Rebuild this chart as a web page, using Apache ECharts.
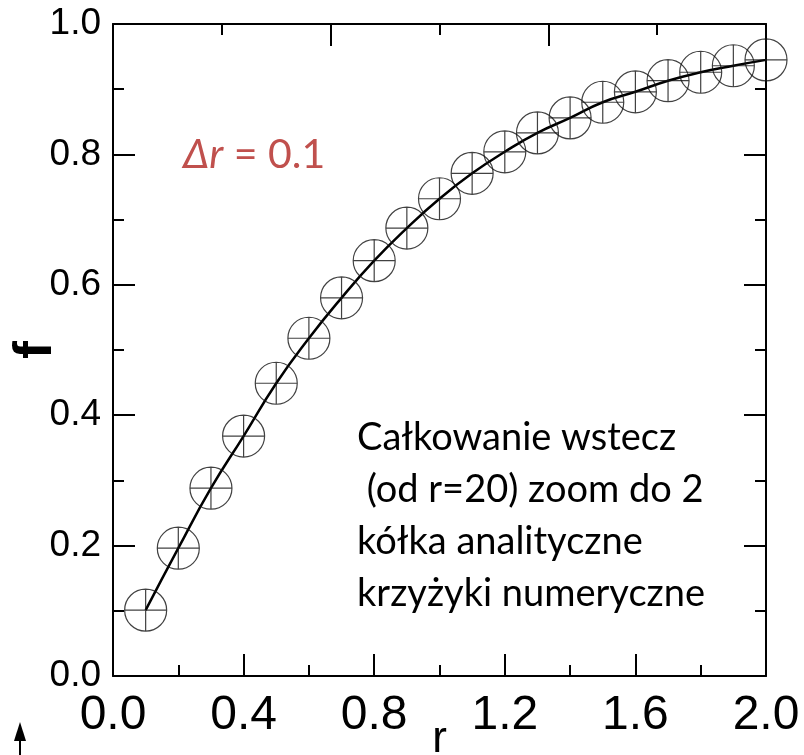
<!DOCTYPE html>
<html>
<head>
<meta charset="utf-8">
<script src="https://cdn.jsdelivr.net/npm/echarts@6/dist/echarts.min.js"></script>
<style>
  html, body { margin: 0; padding: 0; background: #fff; }
  #chart { width: 804px; height: 755px; }
</style>
</head>
<body>
<div id="chart"></div>
<script>
// r values (step 0.1) and f
const rValues = [0.1, 0.2, 0.3, 0.4, 0.5, 0.6, 0.7, 0.8, 0.9, 1.0,
                 1.1, 1.2, 1.3, 1.4, 1.5, 1.6, 1.7, 1.8, 1.9, 2.0];
const fValues = [0.101, 0.196, 0.288, 0.368, 0.449, 0.518, 0.580, 0.637, 0.687, 0.732,
                 0.771, 0.804, 0.833, 0.856, 0.880, 0.896, 0.913, 0.926, 0.936, 0.945];
const xTicks = [0, 2.0, 0.4];   // min, max, interval
const yTicks = [0, 1.0, 0.2];

const points = rValues.map((r, i) => [r, fValues[i]]);

// circle with a cross inside (analytic circle + numeric cross)
const crossCircle = 'path://M0,-10A10,10 0 1,1 0,10A10,10 0 1,1 0,-10Z M-10,0L10,0 M0,-10L0,10';

const chart = echarts.init(document.getElementById('chart'));

const axisLine = { show: true, onZero: false, lineStyle: { color: '#000', width: 2 } };
const tick = { show: true, inside: true, length: 22, lineStyle: { color: '#000', width: 2 } };
const minor = { show: true, splitNumber: 2, length: 11, lineStyle: { color: '#000', width: 2 } };

const option = {
  animation: false,
  grid: { left: 113, right: 38, top: 24, bottom: 79, containLabel: false, outerBoundsMode: 'none' },
  xAxis: [
    {
      type: 'value',
      min: xTicks[0], max: xTicks[1], interval: xTicks[2],
      name: 'r',
      nameLocation: 'middle',
      nameGap: 42,
      nameMoveOverlap: false,
      nameTextStyle: { fontFamily: 'Liberation Sans', fontSize: 44, color: '#000', verticalAlign: 'top' },
      axisLine: axisLine,
      axisTick: tick,
      minorTick: minor,
      splitLine: { show: false },
      axisLabel: {
        fontFamily: 'Liberation Sans', fontSize: 48, color: '#000', margin: 16,
        formatter: v => v.toFixed(1)
      }
    },
    {
      type: 'value',
      position: 'top',
      min: 0, max: 3, interval: 1,
      axisLine: axisLine,
      axisTick: tick,
      minorTick: minor,
      splitLine: { show: false },
      axisLabel: { show: false }
    }
  ],
  yAxis: [
    {
      type: 'value',
      min: yTicks[0], max: yTicks[1], interval: yTicks[2],
      name: 'f',
      nameLocation: 'middle',
      nameRotate: 90,
      nameGap: 50,
      nameMoveOverlap: false,
      nameTextStyle: { fontFamily: 'Liberation Sans', fontSize: 54, fontWeight: 'bold', color: '#000' },
      axisLine: axisLine,
      axisTick: tick,
      minorTick: minor,
      splitLine: { show: false },
      axisLabel: {
        fontFamily: 'Liberation Sans', fontSize: 37, color: '#000', margin: 12,
        formatter: v => v.toFixed(1)
      }
    },
    {
      type: 'value',
      position: 'right',
      min: yTicks[0], max: yTicks[1], interval: yTicks[2],
      axisLine: axisLine,
      axisTick: tick,
      minorTick: minor,
      splitLine: { show: false },
      axisLabel: { show: false }
    }
  ],
  series: [
    {
      name: 'curve',
      type: 'line',
      data: points,
      smooth: true,
      showSymbol: false,
      lineStyle: { color: '#000', width: 2.5 },
      z: 2
    },
    {
      name: 'points',
      type: 'scatter',
      data: points,
      symbol: crossCircle,
      symbolSize: 42,
      itemStyle: { color: 'rgba(0,0,0,0)', borderColor: '#111', borderWidth: 1.2 },
      z: 3
    }
  ],
  graphic: [
    {
      type: 'text',
      left: 183, top: 134,
      style: {
        text: '{i|Δr}{n| = 0.1}',
        rich: {
          i: { fontFamily: 'Lato', fontSize: 41, fontStyle: 'italic', fill: '#c0504d' },
          n: { fontFamily: 'Lato', fontSize: 41, fill: '#c0504d' }
        }
      }
    },
    {
      type: 'text',
      left: 357, top: 412,
      style: {
        text: 'Całkowanie wstecz\n (od r=20) zoom do 2\nkółka analityczne\nkrzyżyki numeryczne',
        fontFamily: 'Lato', fontSize: 38, lineHeight: 52, fill: '#000'
      }
    },
    {
      type: 'polygon',
      shape: { points: [[14, 741], [26, 741], [20, 722]] },
      style: { fill: '#000' }
    },
    {
      type: 'line',
      shape: { x1: 20, y1: 738, x2: 20, y2: 755 },
      style: { stroke: '#000', lineWidth: 2 }
    }
  ]
};

chart.setOption(option);
</script>
</body>
</html>
